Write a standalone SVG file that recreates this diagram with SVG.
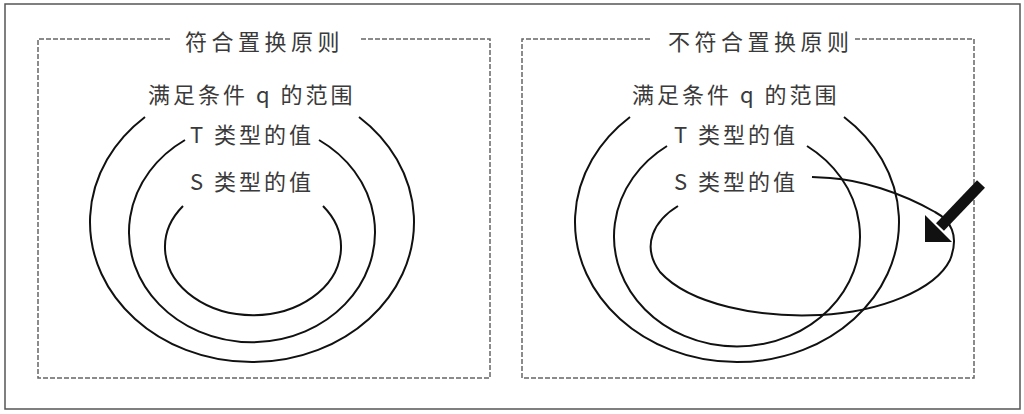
<svg xmlns="http://www.w3.org/2000/svg" width="1024" height="414" viewBox="0 0 1024 414">
<style>
.frame{fill:none;stroke:#555;stroke-width:1.5}
.dash{fill:none;stroke:#666;stroke-width:1.5;stroke-dasharray:5 2}
.t{font-family:"Noto Sans CJK SC","Noto Sans",sans-serif;font-size:22px;fill:#3a3a3a;letter-spacing:3px}
.title{letter-spacing:4.5px}
.c{fill:none;stroke:#111;stroke-width:2}
</style>
<rect x="0" y="0" width="1024" height="414" fill="#fff"/>
<rect class="frame" x="5" y="4" width="1015" height="405"/>

<g id="panel-left">
  <path class="dash" d="M170,39 H38 V378 H490 V39 H360"/>
  <text class="t title" x="185" y="50">符合置换原则</text>
  <g id="left-q">
    <text class="t" x="148" y="103">满足条件 q 的范围</text>
  </g>
  <g id="left-T">
    <text class="t" x="190" y="143">T 类型的值</text>
  </g>
  <g id="left-S">
    <text class="t" x="190" y="190">S 类型的值</text>
  </g>
</g>

<g id="panel-right">
  <path class="dash" d="M650,39 H522 V378 H974 V39 H855"/>
  <text class="t title" x="668" y="50">不符合置换原则</text>
  <g id="right-q">
    <text class="t" x="632" y="103">满足条件 q 的范围</text>
  </g>
  <g id="right-T">
    <text class="t" x="674" y="143">T 类型的值</text>
  </g>
  <g id="right-S">
    <text class="t" x="674" y="190">S 类型的值</text>
  </g>
</g>

<g id="connectors">
  <path class="c" d="M145,117 A162,140 0 1 0 359,117"/>
  <path class="c" d="M185,140 A123,110 0 1 0 319,140"/>
  <path class="c" d="M183,206 A88,68 0 1 0 323,206"/>

  <path class="c" d="M630,117 A162,140 0 1 0 844,117"/>
  <path class="c" d="M667,146 A123,110 0 1 0 807,146"/>
  <path class="c" d="M678,206 C655,220 640,245 660,272 C690,305 760,318 820,315 C880,312 935,290 950,260 C960,235 950,220 935,212 C900,192 860,180 830,178 L812,177"/>

  <line x1="981" y1="184" x2="940" y2="227" stroke="#111" stroke-width="11"/>
  <polygon points="925,242 925,215 952,242" fill="#111"/>
</g>
</svg>
